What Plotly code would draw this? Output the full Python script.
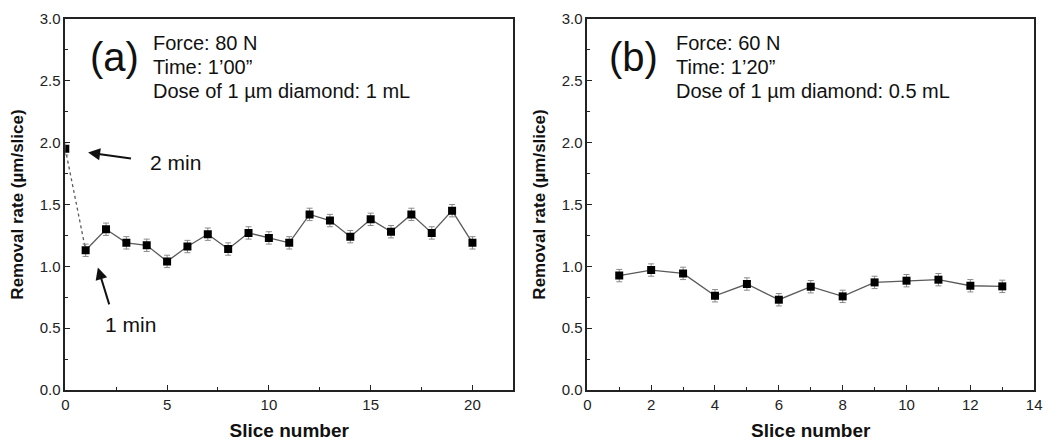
import plotly.graph_objects as go

# ---- data ----
slices_a = list(range(0, 21))
rate_a = [1.95, 1.13, 1.30, 1.19, 1.17, 1.04, 1.16, 1.26, 1.14, 1.27, 1.23,
          1.19, 1.42, 1.37, 1.24, 1.38, 1.28, 1.42, 1.27, 1.45, 1.19]
err_a = [0.05] * len(rate_a)

slices_b = list(range(1, 14))
rate_b = [0.925, 0.97, 0.943, 0.762, 0.857, 0.73, 0.835, 0.757, 0.87, 0.884,
          0.892, 0.843, 0.838]
err_b = [0.05] * len(rate_b)

info_a = ["Force: 80 N", "Time: 1\u201900\u201d", "Dose of 1 \u00b5m diamond: 1 mL"]
info_b = ["Force: 60 N", "Time: 1\u201920\u201d", "Dose of 1 \u00b5m diamond: 0.5 mL"]

FONT = "Liberation Sans, Arial, sans-serif"
LINE_C = "#5a5a5a"
ERR_C = "#8a8a8a"

fig = go.Figure()

def add_series(x, y, xa, ya, dash="solid"):
    fig.add_trace(go.Scatter(
        x=x, y=y, xaxis=xa, yaxis=ya, mode="lines",
        line=dict(color=LINE_C, width=1.3, dash=dash),
        showlegend=False, hoverinfo="skip"))

# panel a: dotted first segment, solid rest
add_series(slices_a[0:2], rate_a[0:2], "x", "y", dash="dot")
add_series(slices_a[1:], rate_a[1:], "x", "y")
fig.add_trace(go.Scatter(
    x=slices_a, y=rate_a, xaxis="x", yaxis="y", mode="markers",
    marker=dict(symbol="square", size=8, color="black"),
    error_y=dict(type="data", array=err_a, color=ERR_C, thickness=1, width=3),
    showlegend=False))

# panel b
add_series(slices_b, rate_b, "x2", "y2")
fig.add_trace(go.Scatter(
    x=slices_b, y=rate_b, xaxis="x2", yaxis="y2", mode="markers",
    marker=dict(symbol="square", size=8, color="black"),
    error_y=dict(type="data", array=err_b, color=ERR_C, thickness=1, width=3),
    showlegend=False))

W, H = 1059, 442
axis_common = dict(
    showline=True, linecolor="#222", linewidth=1.5, mirror=True,
    ticks="inside", ticklen=5, tickwidth=1.2, tickcolor="#222",
    showgrid=False, zeroline=False,
    tickfont=dict(family=FONT, size=15, color="#222"),
)
xtitle_font = dict(family=FONT, size=19, color="#111")
ytitle_font = dict(family=FONT, size=17, color="#111")

fig.update_layout(
    width=W, height=H,
    margin=dict(l=0, r=0, t=19, b=52),
    plot_bgcolor="white", paper_bgcolor="white",
    xaxis=dict(domain=[62 / W, 515 / W], range=[0, 22], tick0=0, dtick=5,
               minor=dict(dtick=2.5, ticks="inside", ticklen=3, tickcolor="#222"),
               title=dict(text="<b>Slice number</b>", font=xtitle_font, standoff=12),
               **axis_common),
    yaxis=dict(domain=[0, 1], range=[0, 3], tick0=0, dtick=0.5, tickformat=".1f",
               anchor="x",
               minor=dict(dtick=0.25, ticks="inside", ticklen=3, tickcolor="#222"),
               title=dict(text="<b>Removal rate (\u00b5m/slice)</b>", font=ytitle_font, standoff=12),
               **axis_common),
    xaxis2=dict(domain=[590 / W, 1042 / W], range=[0, 14], tick0=0, dtick=2,
                anchor="y2",
                minor=dict(dtick=1, ticks="inside", ticklen=3, tickcolor="#222"),
                title=dict(text="<b>Slice number</b>", font=xtitle_font, standoff=12),
                **axis_common),
    yaxis2=dict(domain=[0, 1], range=[0, 3], tick0=0, dtick=0.5, tickformat=".1f",
                anchor="x2",
                minor=dict(dtick=0.25, ticks="inside", ticklen=3, tickcolor="#222"),
                title=dict(text="<b>Removal rate (\u00b5m/slice)</b>", font=ytitle_font, standoff=12),
                **axis_common),
)

ann = []
txt_font = dict(family=FONT, size=20, color="#111")
# panel labels
ann.append(dict(x=2.43, y=2.69, xref="x", yref="y", text="(a)", showarrow=False,
                font=dict(family=FONT, size=40, color="#111")))
ann.append(dict(x=1.46, y=2.69, xref="x2", yref="y2", text="(b)", showarrow=False,
                font=dict(family=FONT, size=40, color="#111")))
ys = [2.805, 2.61, 2.42]
for t, yv in zip(info_a, ys):
    ann.append(dict(x=4.2, y=yv, xref="x", yref="y", text=t, showarrow=False,
                    xanchor="left", font=txt_font))
for t, yv in zip(info_b, ys):
    ann.append(dict(x=2.72, y=yv, xref="x2", yref="y2", text=t, showarrow=False,
                    xanchor="left", font=txt_font))
# arrows
ann.append(dict(x=1.12, y=1.92, ax=3.3, ay=1.87, xref="x", yref="y", axref="x", ayref="y",
                showarrow=True, arrowhead=2, arrowsize=1.2, arrowwidth=2, arrowcolor="#111", text=""))
ann.append(dict(x=5.4, y=1.84, xref="x", yref="y", text="2 min", showarrow=False,
                font=dict(family=FONT, size=21, color="#111")))
ann.append(dict(x=1.6, y=0.99, ax=2.18, ay=0.68, xref="x", yref="y", axref="x", ayref="y",
                showarrow=True, arrowhead=2, arrowsize=1.2, arrowwidth=2, arrowcolor="#111", text=""))
ann.append(dict(x=3.2, y=0.53, xref="x", yref="y", text="1 min", showarrow=False,
                font=dict(family=FONT, size=21, color="#111")))
fig.update_layout(annotations=ann)

fig.write_html("out.html")
